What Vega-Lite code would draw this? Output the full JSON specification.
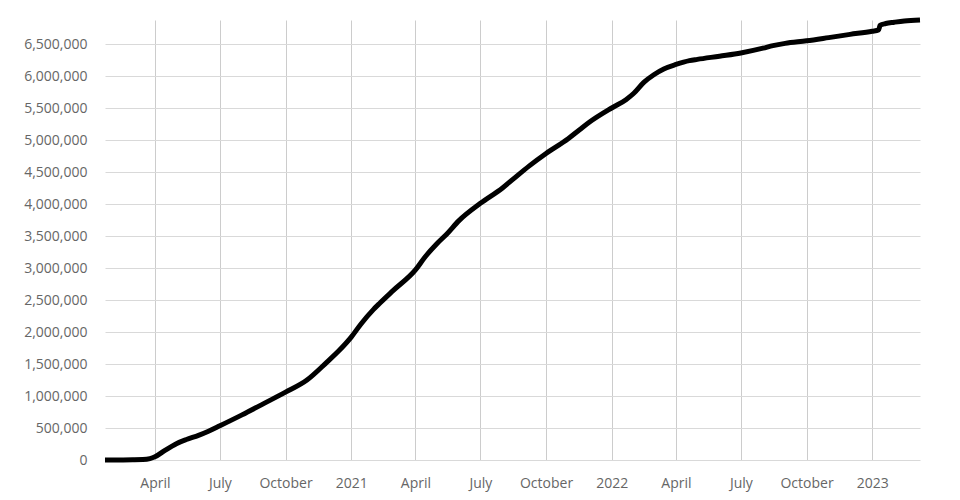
{
  "$schema": "https://vega.github.io/schema/vega-lite/v6.json",
  "autosize": {"type": "none"},
  "width": 815,
  "height": 440,
  "padding": {"left": 105, "top": 20, "right": 40, "bottom": 40},
  "background": "white",
  "config": {
    "view": {"stroke": null},
    "font": "Open Sans",
    "axis": {"labelFont": "Open Sans", "labelColor": "#666666", "labelFontSize": 14}
  },
  "data": {
    "values": [
      {"date": "2020-01-22", "deaths": 17},
      {"date": "2020-02-15", "deaths": 1700},
      {"date": "2020-03-01", "deaths": 3000},
      {"date": "2020-03-15", "deaths": 6500},
      {"date": "2020-03-25", "deaths": 22000},
      {"date": "2020-04-01", "deaths": 50000},
      {"date": "2020-04-15", "deaths": 150000},
      {"date": "2020-05-01", "deaths": 255000},
      {"date": "2020-05-15", "deaths": 320000},
      {"date": "2020-06-01", "deaths": 385000},
      {"date": "2020-06-15", "deaths": 450000},
      {"date": "2020-07-01", "deaths": 535000},
      {"date": "2020-08-01", "deaths": 705000},
      {"date": "2020-09-01", "deaths": 885000},
      {"date": "2020-10-01", "deaths": 1060000},
      {"date": "2020-10-31", "deaths": 1250000},
      {"date": "2020-11-28", "deaths": 1530000},
      {"date": "2020-12-15", "deaths": 1710000},
      {"date": "2021-01-01", "deaths": 1920000},
      {"date": "2021-01-15", "deaths": 2130000},
      {"date": "2021-02-01", "deaths": 2350000},
      {"date": "2021-02-10", "deaths": 2450000},
      {"date": "2021-03-01", "deaths": 2650000},
      {"date": "2021-04-01", "deaths": 2970000},
      {"date": "2021-04-15", "deaths": 3180000},
      {"date": "2021-05-01", "deaths": 3380000},
      {"date": "2021-05-14", "deaths": 3520000},
      {"date": "2021-06-01", "deaths": 3740000},
      {"date": "2021-07-01", "deaths": 4010000},
      {"date": "2021-08-01", "deaths": 4250000},
      {"date": "2021-08-15", "deaths": 4380000},
      {"date": "2021-09-08", "deaths": 4600000},
      {"date": "2021-10-01", "deaths": 4790000},
      {"date": "2021-11-01", "deaths": 5020000},
      {"date": "2021-11-17", "deaths": 5160000},
      {"date": "2021-12-01", "deaths": 5280000},
      {"date": "2022-01-01", "deaths": 5500000},
      {"date": "2022-01-21", "deaths": 5630000},
      {"date": "2022-02-01", "deaths": 5730000},
      {"date": "2022-02-15", "deaths": 5900000},
      {"date": "2022-03-01", "deaths": 6020000},
      {"date": "2022-03-15", "deaths": 6110000},
      {"date": "2022-04-01", "deaths": 6180000},
      {"date": "2022-04-20", "deaths": 6240000},
      {"date": "2022-05-01", "deaths": 6260000},
      {"date": "2022-06-01", "deaths": 6310000},
      {"date": "2022-07-01", "deaths": 6360000},
      {"date": "2022-08-01", "deaths": 6435000},
      {"date": "2022-08-15", "deaths": 6475000},
      {"date": "2022-09-01", "deaths": 6510000},
      {"date": "2022-10-01", "deaths": 6550000},
      {"date": "2022-11-01", "deaths": 6600000},
      {"date": "2022-12-01", "deaths": 6650000},
      {"date": "2023-01-01", "deaths": 6700000},
      {"date": "2023-01-10", "deaths": 6720000},
      {"date": "2023-01-12", "deaths": 6790000},
      {"date": "2023-01-20", "deaths": 6820000},
      {"date": "2023-02-01", "deaths": 6840000},
      {"date": "2023-02-15", "deaths": 6860000},
      {"date": "2023-03-09", "deaths": 6875000}
    ]
  },
  "mark": {"type": "line", "color": "black", "strokeWidth": 5, "interpolate": "monotone"},
  "encoding": {
    "x": {
      "field": "date",
      "type": "temporal",
      "scale": {"type": "utc", "domain": ["2020-01-22", "2023-03-09"], "nice": false},
      "axis": {
        "title": null,
        "domain": false,
        "ticks": false,
        "labelPadding": 16,
        "grid": true,
        "gridColor": "#cccccc",
        "tickCount": {"interval": "month", "step": 3},
        "labelExpr": "utcmonth(datum.value) == 0 ? utcFormat(datum.value, '%Y') : utcFormat(datum.value, '%B')",
        "labelFlush": false,
        "labelOverlap": false
      }
    },
    "y": {
      "field": "deaths",
      "type": "quantitative",
      "scale": {"domain": [0, 6875000], "nice": false},
      "axis": {
        "title": null,
        "domain": false,
        "ticks": false,
        "labelPadding": 18,
        "grid": true,
        "gridColor": "#d9d9d9",
        "values": [0, 500000, 1000000, 1500000, 2000000, 2500000, 3000000, 3500000, 4000000, 4500000, 5000000, 5500000, 6000000, 6500000],
        "format": ",d"
      }
    }
  }
}
